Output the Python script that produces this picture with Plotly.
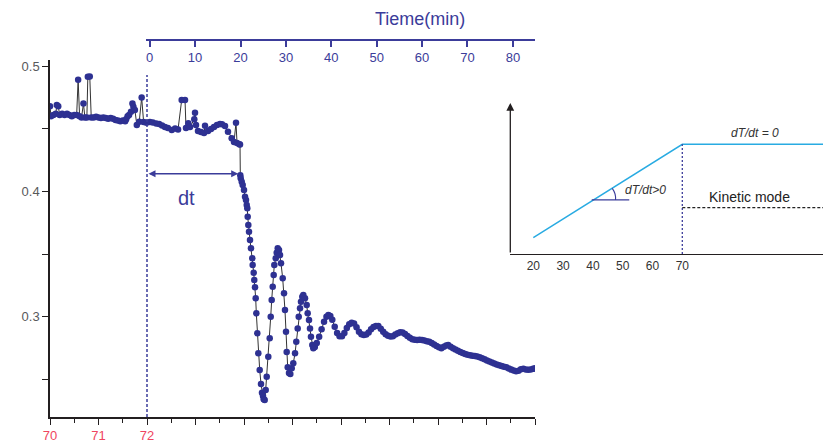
import plotly.graph_objects as go

# ---------------- main series (bottom axis units 70..80) ----------------
temperature = [
    70.00, 70.02, 70.07, 70.12, 70.14, 70.17, 70.20, 70.25, 70.30, 70.35, 70.40, 70.45, 70.50, 70.55,
    70.58, 70.61, 70.65, 70.69, 70.72, 70.76, 70.78, 70.82, 70.85, 70.90, 70.95, 71.00, 71.05, 71.10,
    71.15, 71.20, 71.25, 71.30, 71.35, 71.40, 71.45, 71.50, 71.55, 71.57, 71.60, 71.63, 71.67, 71.70,
    71.72, 71.75, 71.79, 71.84, 71.89, 71.93, 71.99,
    72.06, 72.12, 72.19, 72.25, 72.31, 72.37, 72.43, 72.51, 72.58, 72.64, 72.715, 72.784, 72.804,
    72.852, 72.887, 72.975, 72.990, 73.010, 73.052, 73.113, 73.175, 73.196, 73.258, 73.320, 73.381,
    73.443, 73.505, 73.546, 73.608, 73.670, 73.746, 73.794, 73.835, 73.856, 73.903, 73.918,
    73.924, 73.932, 73.953, 73.973, 74.000, 74.021, 74.041, 74.056, 74.068, 74.076, 74.089, 74.103,
    74.124, 74.144, 74.171, 74.179, 74.200, 74.212, 74.227, 74.241, 74.254, 74.274, 74.295, 74.324,
    74.351, 74.371, 74.392, 74.406, 74.427, 74.447, 74.468, 74.501, 74.530, 74.551, 74.571, 74.592,
    74.612, 74.625, 74.654, 74.674, 74.695, 74.722, 74.742, 74.763, 74.798, 74.825, 74.845, 74.866,
    74.880, 74.901, 74.928, 74.955, 74.984, 75.016, 75.052, 75.078, 75.107, 75.128, 75.155, 75.175,
    75.202, 75.223, 75.258, 75.293, 75.313, 75.340, 75.361, 75.381, 75.408, 75.429,
    75.46, 75.50, 75.55, 75.60, 75.65, 75.70, 75.74, 75.78, 75.82, 75.87, 75.92, 75.97, 76.02, 76.07,
    76.12, 76.17, 76.22, 76.27, 76.32, 76.37, 76.42, 76.47, 76.52, 76.57, 76.62, 76.67, 76.72, 76.77,
    76.82, 76.87, 76.92, 76.97, 77.02, 77.07, 77.12, 77.17, 77.22, 77.27, 77.32, 77.37, 77.42, 77.47,
    77.52, 77.57, 77.62, 77.67, 77.72, 77.77, 77.82, 77.87, 77.92, 77.97, 78.02, 78.07, 78.12, 78.17,
    78.21, 78.26, 78.31, 78.36, 78.41, 78.46, 78.51, 78.56, 78.61, 78.66, 78.71, 78.76, 78.81, 78.86,
    78.91, 78.96, 79.01, 79.06, 79.11, 79.16, 79.21, 79.26, 79.31, 79.36, 79.41, 79.46, 79.51, 79.56,
    79.61, 79.66, 79.71, 79.76, 79.81, 79.86, 79.91, 79.96, 80.00,
]
signal = [
    0.468, 0.460, 0.461, 0.462, 0.469, 0.468, 0.461, 0.462, 0.461, 0.462, 0.461, 0.460, 0.461, 0.461,
    0.489, 0.460, 0.459, 0.470, 0.459, 0.459, 0.4915, 0.4917, 0.459, 0.459, 0.4595, 0.459, 0.4585, 0.459,
    0.4585, 0.458, 0.4585, 0.458, 0.457, 0.4565, 0.456, 0.4565, 0.456, 0.4575, 0.460, 0.461, 0.4635, 0.470,
    0.4675, 0.465, 0.453, 0.4556, 0.4748, 0.4554, 0.4548,
    0.4554, 0.4550, 0.4542, 0.4538, 0.4526, 0.4514, 0.4506, 0.4490, 0.4502, 0.4494, 0.4729, 0.4729, 0.4506,
    0.4543, 0.4514, 0.4575, 0.4628, 0.4530, 0.4482, 0.4474, 0.4466, 0.4524, 0.4482, 0.4498, 0.4514,
    0.4530, 0.4538, 0.4535, 0.4522, 0.4476, 0.4424, 0.4394, 0.4548, 0.4386, 0.4376, 0.4374,
    0.4129, 0.4104, 0.4077, 0.4051, 0.4011, 0.3958, 0.3931, 0.3891, 0.3865, 0.3798, 0.3732, 0.3678,
    0.3612, 0.3546, 0.3466, 0.3413, 0.3351, 0.3293, 0.3235, 0.3147, 0.3027, 0.2868, 0.2708, 0.2575,
    0.2463, 0.2394, 0.2367, 0.2341, 0.2335, 0.2415, 0.2521, 0.2681, 0.2828, 0.3000, 0.3133, 0.3239,
    0.3333, 0.3413, 0.3466, 0.3511, 0.3546, 0.3532, 0.3492, 0.3426, 0.3306, 0.3187, 0.3053, 0.2880,
    0.2718, 0.2596, 0.2551, 0.2543, 0.2588, 0.2628, 0.2708, 0.2800, 0.2907, 0.3000, 0.3067, 0.3120,
    0.3160, 0.3173, 0.3147, 0.3093, 0.3027, 0.2974, 0.2907, 0.2840, 0.2774, 0.2748,
    0.2758, 0.2790, 0.2840, 0.2900, 0.2960, 0.3000, 0.3014, 0.3005, 0.2975, 0.2920, 0.2870, 0.2845, 0.2845, 0.2870,
    0.2910, 0.2940, 0.2952, 0.2945, 0.2915, 0.2880, 0.2860, 0.2855, 0.2858, 0.2875, 0.2900, 0.2918, 0.2926, 0.2926,
    0.2905, 0.2880, 0.2860, 0.2848, 0.2842, 0.2845, 0.2858, 0.2868, 0.2876, 0.2874, 0.2862, 0.2846, 0.2832, 0.2820,
    0.2816, 0.2814, 0.2816, 0.2814, 0.2810, 0.2804, 0.2800, 0.2790, 0.2778, 0.2766, 0.2756, 0.2748, 0.2760, 0.2770,
    0.2774, 0.2760, 0.2748, 0.2738, 0.2728, 0.2718, 0.2710, 0.2702, 0.2696, 0.2692, 0.2688, 0.2686, 0.2682, 0.2676,
    0.2668, 0.2660, 0.2650, 0.2642, 0.2634, 0.2626, 0.2618, 0.2612, 0.2606, 0.2600, 0.2596, 0.2586, 0.2578, 0.2570,
    0.2565, 0.2568, 0.2580, 0.2584, 0.2578, 0.2576, 0.2578, 0.2584, 0.2588,
]

# axis ticks
bottom_tickvals = [70, 71, 72, 73, 74, 75, 76, 77, 78, 79, 80]
bottom_ticktext = ["70", "71", "72", "", "", "", "", "", "", "", ""]
left_tickvals = [0.3, 0.4, 0.5]
left_ticktext = ["0.3", "0.4", "0.5"]
top_tickvals = [0, 10, 20, 30, 40, 50, 60, 70, 80]

# dt marker
dt_start = 72.0
dt_end = 73.88
dt_level = 0.414
dashed_x = [72.0, 72.0]
dashed_y = [0.22, 0.4928]

# ---------------- inset ----------------
inset_temp = [20, 70, 125]
inset_energy = [0.108, 0.726, 0.726]
inset_ticks = [20, 30, 40, 50, 60, 70]
inset_vline_x = [70, 70]
inset_vline_y = [0.0, 0.726]
kinetic_x = [70, 119.0]
kinetic_y = [0.307, 0.307]
angle_x = [39.6, 52.2]
angle_y = [0.358, 0.358]

BLUE = "#2e3192"
AXBLUE = "#3b3c9a"
FONT = "Liberation Sans"

fig = go.Figure()

fig.add_trace(go.Scatter(
    x=temperature, y=signal, mode="lines+markers",
    line=dict(color="#333333", width=1),
    marker=dict(color=BLUE, size=6.5),
    xaxis="x", yaxis="y", showlegend=False, hoverinfo="skip"))

fig.add_trace(go.Scatter(
    x=dashed_x, y=dashed_y, mode="lines",
    line=dict(color=AXBLUE, width=1.5, dash="3px,2px"),
    xaxis="x", yaxis="y", showlegend=False, hoverinfo="skip"))

# invisible trace to make the top axis exist
fig.add_trace(go.Scatter(
    x=[top_tickvals[0], top_tickvals[-1]], y=[None, None], mode="markers",
    xaxis="x2", yaxis="y", showlegend=False, hoverinfo="skip"))

# inset traces
fig.add_trace(go.Scatter(
    x=inset_temp, y=inset_energy, mode="lines",
    line=dict(color="#29abe2", width=1.5),
    xaxis="x3", yaxis="y3", showlegend=False, hoverinfo="skip"))
fig.add_trace(go.Scatter(
    x=inset_vline_x, y=inset_vline_y, mode="lines",
    line=dict(color=AXBLUE, width=1.3, dash="2px,2px"),
    xaxis="x3", yaxis="y3", showlegend=False, hoverinfo="skip"))
fig.add_trace(go.Scatter(
    x=kinetic_x, y=kinetic_y, mode="lines",
    line=dict(color="#222222", width=1.3, dash="3px,2px"),
    xaxis="x3", yaxis="y3", showlegend=False, hoverinfo="skip"))
fig.add_trace(go.Scatter(
    x=angle_x, y=angle_y, mode="lines",
    line=dict(color=AXBLUE, width=1.2),
    xaxis="x3", yaxis="y3", showlegend=False, hoverinfo="skip"))

# the page body has an 8px margin, so the figure sits at (8, 8)
W, H = 831, 445
L, R, T, B = 42, 8, 32, 36
pw = W - L - R
ph = H - T - B
OFF = 8

def px_x(p):
    return (p - OFF - L) / pw

def px_y(p):
    return (OFF + H - B - p) / ph

main_right = px_x(535)

fig.update_layout(
    width=W, height=H,
    margin=dict(l=L, r=R, t=T, b=B, autoexpand=False),
    paper_bgcolor="white", plot_bgcolor="rgba(0,0,0,0)",
    font=dict(family=FONT, color="#333333"),
    xaxis=dict(
        domain=[0, main_right], range=[70, 80], anchor="y",
        showgrid=False, zeroline=False, automargin=False,
        showline=True, linecolor="#231f20", linewidth=1.5,
        ticks="outside", ticklen=6, tickwidth=1.2, tickcolor="#231f20",
        tickvals=bottom_tickvals, ticktext=bottom_ticktext,
        tickfont=dict(size=13, color="#ef4560", family=FONT),
        minor=dict(dtick=0.5, tick0=70, ticks="outside", ticklen=4, tickwidth=1.2, tickcolor="#231f20"),
    ),
    yaxis=dict(
        domain=[0, px_y(60)], range=[0.22, 0.5048], anchor="x",
        showgrid=False, zeroline=False, automargin=False,
        showline=True, linecolor="#231f20", linewidth=1.5,
        ticks="outside", ticklen=6, tickwidth=1.2, tickcolor="#231f20",
        tickvals=left_tickvals, ticktext=left_ticktext,
        tickfont=dict(size=13, color="#58595b", family=FONT),
        minor=dict(tickvals=[0.25, 0.35, 0.45], ticks="outside", ticklen=6, tickwidth=1.2, tickcolor="#231f20"),
    ),
    xaxis2=dict(
        domain=[px_x(146), main_right], range=[-0.815, 84.87],
        anchor="free", position=1, side="bottom", automargin=False,
        showgrid=False, zeroline=False,
        showline=True, linecolor=AXBLUE, linewidth=1.5,
        ticks="outside", ticklen=6, tickwidth=1.5, tickcolor=AXBLUE,
        tickvals=top_tickvals,
        tickfont=dict(size=13, color=AXBLUE, family=FONT),
    ),
    xaxis3=dict(
        domain=[px_x(510.3), 1.0], range=[12.28, 119.9], anchor="y3",
        showgrid=False, zeroline=False, automargin=False,
        showline=True, linecolor="#231f20", linewidth=1.3,
        ticks="", tickvals=inset_ticks,
        tickfont=dict(size=12, color="#333333", family=FONT),
    ),
    yaxis3=dict(
        domain=[px_y(254), px_y(103)], range=[0, 1], anchor="x3",
        showgrid=False, zeroline=False, showline=False, automargin=False,
        showticklabels=False, ticks="",
    ),
    shapes=[
        dict(type="path", xref="x3", yref="y3",
             path="M 47.6,0.358 Q 47.8,0.400 46.5,0.435",
             line=dict(color=AXBLUE, width=1.1)),
    ],
    annotations=[
        dict(text="Tieme(min)", xref="paper", yref="paper",
             x=px_x(420), y=px_y(19), xanchor="center", yanchor="middle",
             showarrow=False, font=dict(size=18, color=AXBLUE, family=FONT)),
        dict(text="", x=dt_end, y=dt_level, ax=dt_start, ay=dt_level,
             xref="x", yref="y", axref="x", ayref="y",
             showarrow=True, arrowhead=2, arrowsize=1, arrowwidth=1.4,
             arrowside="end+start", arrowcolor=AXBLUE),
        dict(text="dt", x=72.82, y=0.3947, xref="x", yref="y",
             showarrow=False, font=dict(size=20, color=AXBLUE, family=FONT)),
        # inset y-axis arrow
        dict(text="", x=12.28, y=1.0, ax=12.28, ay=0.0,
             xref="x3", yref="y3", axref="x3", ayref="y3",
             showarrow=True, arrowhead=2, arrowsize=1.2, arrowwidth=1.3, arrowcolor="#231f20"),
        # kinetic arrowhead
        dict(text="", x=119.6, y=0.307, ax=117.5, ay=0.307,
             xref="x3", yref="y3", axref="x3", ayref="y3",
             showarrow=True, arrowhead=2, arrowsize=1, arrowwidth=1.3, arrowcolor="#222222"),
        dict(text="Energy of the systeme", x=3.79, y=0.5, xref="x3", yref="y3",
             textangle=-90, showarrow=False, font=dict(size=12, color="#333333", family=FONT)),
        dict(text="Temperature (°C)", x=43.5, y=-0.19, xref="x3", yref="y3",
             showarrow=False, font=dict(size=12, color="#333333", family=FONT)),
        dict(text="<i>dT/dt = 0</i>", x=94.4, y=0.80, xref="x3", yref="y3",
             showarrow=False, font=dict(size=12, color="#333333", family=FONT)),
        dict(text="<i>dT/dt>0</i>", x=57.5, y=0.424, xref="x3", yref="y3",
             showarrow=False, font=dict(size=12, color="#333333", family=FONT)),
        dict(text="Kinetic mode", x=92.7, y=0.377, xref="x3", yref="y3",
             showarrow=False, font=dict(size=14, color="#222222", family=FONT)),
    ],
)

fig.write_html("out.html")
